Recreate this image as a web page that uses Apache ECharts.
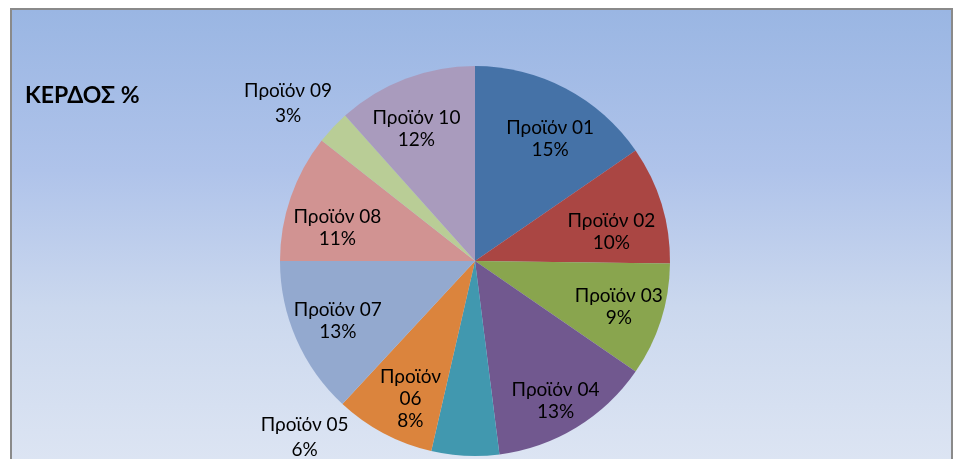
<!DOCTYPE html>
<html>
<head>
<meta charset="utf-8">
<script src="https://cdn.jsdelivr.net/npm/echarts@6/dist/echarts.min.js"></script>
<style>
  html, body { margin: 0; padding: 0; background: #ffffff; width: 953px; height: 459px; overflow: hidden; }
  #frame { position: absolute; left: 10px; top: 8px; width: 943px; height: 460px; box-sizing: border-box;
           border: 2px solid #8a8a8a; border-bottom: none;
           background: linear-gradient(to bottom, #9ab6e3 0%, #afc3ea 35%, #cbd8ee 65%, #dde5f3 100%); }
  #chart { position: absolute; left: 0; top: 0; width: 953px; height: 459px; }
</style>
</head>
<body>
<div id="frame"></div>
<div id="chart"></div>
<script>
const titleText = 'ΚΕΡΔΟΣ %';
const categories = ['Προϊόν 01','Προϊόν 02','Προϊόν 03','Προϊόν 04','Προϊόν 05','Προϊόν 06','Προϊόν 07','Προϊόν 08','Προϊόν 09','Προϊόν 10'];
const values = [15.4, 9.8, 9.4, 13.4, 5.6, 8.3, 13.1, 10.6, 2.8, 11.6];
const colors = ['#4572A7','#AA4643','#89A54E','#71588F','#4198AF','#DB843D','#93A9CF','#D19392','#B9CD96','#A99BBD'];
const outsideLabels = ['Προϊόν 05','Προϊόν 09'];
const wrappedLabels = ['Προϊόν 06'];
// small label nudges (px) to mimic the original's label placement
const labelNudges = [[4,13],[-10,15],[-2,0],[1,9],[-158,-69],[7,3],[3,-1],[7,17],[-8,10],[-4,11]];

const FONT = 'Lato, "Noto Sans", sans-serif';
const pct = p => Math.round(p.percent) + '%';
const pctFormatter = p => p.name + '\n' + pct(p);
const wrapFormatter = p => p.name.replace(' ', '\n') + '\n' + pct(p);
const nudge = p => ({dx: labelNudges[p.dataIndex][0], dy: labelNudges[p.dataIndex][1]});
const center = [475, 261];
const labelStyle = {fontFamily: FONT, fontSize: 19, lineHeight: 22, color: '#000'};

const chart = echarts.init(document.getElementById('chart'), null, {renderer: 'canvas'});
chart.setOption({
  animation: false,
  backgroundColor: 'transparent',
  title: {
    text: titleText, left: 20, top: 79,
    textStyle: {fontFamily: FONT, fontSize: 23, fontWeight: 'bold', color: '#000'}
  },
  series: [
    {
      type: 'pie', silent: true, center: center, radius: [0, 195], startAngle: 90, clockwise: true,
      label: {show: false}, labelLine: {show: false},
      itemStyle: {borderWidth: 0},
      data: categories.map((c, i) => ({name: c, value: values[i], itemStyle: {color: colors[i]}}))
    },
    {
      type: 'pie', silent: true, center: center, radius: [105, 195], startAngle: 90, clockwise: true,
      itemStyle: {color: 'rgba(0,0,0,0)', borderWidth: 0},
      label: Object.assign({show: true, position: 'inside', formatter: pctFormatter}, labelStyle),
      labelLine: {show: false},
      labelLayout: nudge,
      data: categories.map((c, i) => ({
        name: c, value: values[i],
        label: outsideLabels.includes(c) ? {show: false}
             : (wrappedLabels.includes(c) ? {formatter: wrapFormatter} : {})
      }))
    },
    {
      type: 'pie', silent: true, center: center, radius: [195, 290], startAngle: 90, clockwise: true,
      itemStyle: {color: 'rgba(0,0,0,0)', borderWidth: 0},
      label: Object.assign({show: true, position: 'inside', formatter: pctFormatter}, labelStyle, {lineHeight: 25}),
      labelLine: {show: false},
      labelLayout: nudge,
      data: categories.map((c, i) => ({
        name: c, value: values[i],
        label: outsideLabels.includes(c) ? {} : {show: false}
      }))
    }
  ]
});
</script>
</body>
</html>
